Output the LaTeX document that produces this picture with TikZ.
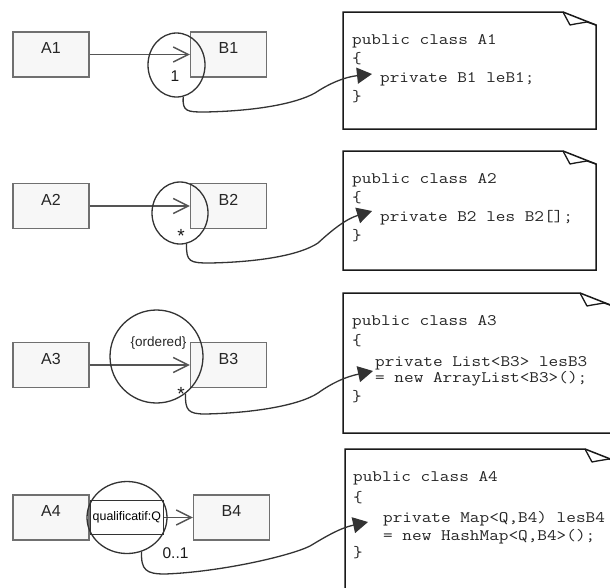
\documentclass[tikz,border=0pt]{standalone}
\usepackage{fontspec}
\setmainfont{Liberation Sans}
\usetikzlibrary{arrows.meta,shapes.geometric}
\definecolor{boxfill}{HTML}{F7F7F7}
\definecolor{boxline}{HTML}{707070}
\definecolor{ink}{HTML}{333333}
\definecolor{assoc}{HTML}{555555}
\newcommand\cdtext[1]{\scalebox{1.17}[1]{#1}}
\begin{document}
\begin{tikzpicture}[x=1pt,y=-1pt,
 cls/.style={draw=boxline, fill=boxfill, line width=1.4pt, minimum width=76pt, minimum height=45pt, inner sep=0pt, text height=11.5pt, text depth=13pt, font=\fontsize{16}{18}\selectfont, text=black!85},
 assocline/.style={draw=assoc, line width=1.4pt, -{Straight Barb[length=15pt,width=15pt]}},
 loop/.style={draw=ink, line width=1.3pt, ellipse, inner sep=0pt},
 wire/.style={draw=ink, line width=1.3pt, -{Triangle[length=15pt,width=16pt]}},
 note/.style={draw=black!90, line width=1.5pt, fill=white},
 fold/.style={draw=black!90, line width=1.3pt, line join=round},
 code/.style={anchor=base west, inner sep=0pt, font=\ttfamily\fontsize{16}{19}\selectfont, text=black!85},
 mult/.style={anchor=base, inner sep=0pt, font=\fontsize{15.5}{18}\selectfont, text=black!90},
 star/.style={anchor=base, inner sep=0pt, font=\fontsize{19}{20}\selectfont, text=black!90},
]
\path[use as bounding box] (0,0) rectangle (610,587);
\clip (0,0) rectangle (610,587);

% ---------- panel 1
\node[cls] (A1) at (51,54.5) {A1};
\node[cls] (B1) at (228.5,54.5) {B1};
\draw[assocline] (A1.east) -- (B1.west);
\node[loop, minimum width=57pt, minimum height=64pt] (c1) at (176.5,65) {};
\node[mult] (m1) at (175,81.7) {1};

% ---------- panel 2
\node[cls] (A2) at (51,206) {A2};
\node[cls] (B2) at (228.5,206) {B2};
\draw[assocline] (A2.east) -- (B2.west);
\node[loop, minimum width=56pt, minimum height=62pt] (c2) at (180,213) {};
\node[star] (m2) at (181,242) {*};

% ---------- panel 3
\node[cls] (A3) at (51,365) {A3};
\node[cls] (B3) at (228.5,365) {B3};
\draw[assocline] (A3.east) -- (B3.west);
\node[loop, minimum width=93pt, minimum height=93pt] (c3) at (156.5,356.5) {};
\node[anchor=base, inner sep=0pt, font=\fontsize{13.5}{16}\selectfont, text=black!85] (o3) at (158.5,346.5) {\{ordered\}};
\node[star] (m3) at (181,400) {*};

% ---------- panel 4
\node[cls] (A4) at (51,517.5) {A4};
\node[draw=ink, fill=white, line width=1.3pt, minimum width=73pt, minimum height=34pt, inner sep=0pt, text height=9.5pt, text depth=3pt, font=\fontsize{12.4}{14}\selectfont, anchor=west] (q4) at (A4.east) {qualificatif:Q};
\node[cls] (B4) at (231.5,517.5) {B4};
\draw[assocline] (q4.east) -- (B4.west);
\node[loop, minimum width=80pt, minimum height=72pt] (c4) at (127,517.5) {};
\node[mult] (m4) at (175.5,558.3) {0..1};

% ---------- notes
\draw[note] (343,12) -- (563,12) -- (596,25) -- (596,129) -- (343,129) -- cycle;
\draw[fold] (563,12) -- (570,25) -- (575,24) -- (587,22) -- (596,25);
\node[code] (t1a) at (352,44.5) {\cdtext{public class A1}};
\node[code] (t1b) at (352,63) {\cdtext{\{}};
\node[code] (t1c) at (380,82) {\cdtext{private B1 leB1;}};
\node[code] (t1d) at (352,101) {\cdtext{\}}};

\draw[note] (343,151) -- (563,151) -- (596,164) -- (596,270) -- (343,270) -- cycle;
\draw[fold] (563,151) -- (570,164) -- (575,163) -- (587,161) -- (596,164);
\node[code] (t2a) at (352,183.5) {\cdtext{public class A2}};
\node[code] (t2b) at (352,202.5) {\cdtext{\{}};
\node[code] (t2c) at (380,221.7) {\cdtext{private B2 les B2[];}};
\node[code] (t2d) at (352,240.5) {\cdtext{\}}};

\draw[note] (343,293) -- (580,293) -- (613,306) -- (613,433) -- (343,433) -- cycle;
\draw[fold] (580,293) -- (587,306) -- (592,305) -- (604,303) -- (613,306);
\node[code] (t3a) at (352,325.7) {\cdtext{public class A3}};
\node[code] (t3b) at (352,345) {\cdtext{\{}};
\node[code] (t3c) at (375,366) {\cdtext{private List<B3> lesB3}};
\node[code] (t3d) at (375,382.7) {\cdtext{= new ArrayList<B3>();}};
\node[code] (t3e) at (352,401) {\cdtext{\}}};

\draw[note] (345,449) -- (585,449) -- (618,462) -- (618,600) -- (345,600) -- cycle;
\draw[fold] (585,449) -- (592,462) -- (597,461) -- (609,459) -- (618,462);
\node[code] (t4a) at (353,481.7) {\cdtext{public class A4}};
\node[code] (t4b) at (353,502) {\cdtext{\{}};
\node[code] (t4c) at (383,522.7) {\cdtext{private Map<Q,B4) lesB4}};
\node[code] (t4d) at (383,540) {\cdtext{= new HashMap<Q,B4>();}};
\node[code] (t4e) at (353,557) {\cdtext{\}}};

% ---------- connectors from the loops to the code
\coordinate (tip1) at (372,74);
\coordinate (tip2) at (372,211);
\coordinate (tip3) at (373,371);
\coordinate (tip4) at (368,522);
\draw[wire] (c1.-78) .. controls (182,112) and (188,112) .. (205,112) .. controls (255,111) and (295,104) .. (315,93) .. controls (330,83) and (345,77) .. (tip1);
\draw[wire] (c2.-78) .. controls (186,262) and (190,263) .. (210,263) .. controls (260,262) and (300,255) .. (318,243) .. controls (332,230) and (346,219) .. (tip2);
\draw[wire] (c3.-52) .. controls (185,410) and (188,414) .. (205,414) .. controls (255,413) and (300,405) .. (318,393) .. controls (332,383) and (345,377) .. (tip3);
\draw[wire] (c4.-67) .. controls (141,570) and (146,574) .. (165,574) .. controls (220,572) and (290,556) .. (310,546) .. controls (325,537) and (340,528) .. (tip4);
\end{tikzpicture}
\end{document}
